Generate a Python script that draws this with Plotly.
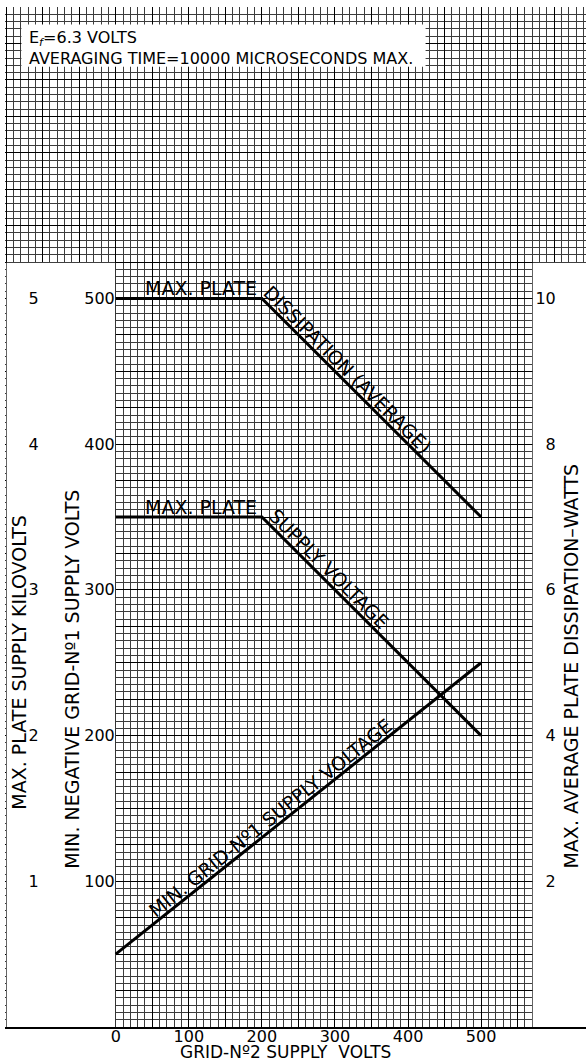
import numpy as np
import plotly.graph_objects as go

# ---------------- data ----------------
grid2_supply_v = [0, 200, 500]              # x: grid-No.2 supply volts
max_plate_dissipation_w = [10, 10, 7]       # right scale (watts)
max_plate_supply_kv = [3.5, 3.5, 2.0]       # left outer scale (kilovolts)
grid1_x_v = [0, 500]
min_grid1_supply_v = [50, 250]              # middle scale (volts)

x_tick_vals = [0, 100, 200, 300, 400, 500]
x_tick_text = ["0", "100", "200", "300", "400", "500"]
v_tick_vals = [100, 200, 300, 400, 500]
v_tick_text = ["100", "200", "300", "400", "500"]
kv_tick_vals = [1, 2, 3, 4, 5]
kv_tick_text = ["1", "2", "3", "4", "5"]
w_tick_vals = [2, 4, 6, 8, 10]
w_tick_text = ["2", "4", "6", "8", "10"]

note_lines = ["E<sub><i>f</i></sub>=6.3 VOLTS",
              "AVERAGING TIME=10000 MICROSECONDS MAX."]
x_title = "GRID-N\u00ba2 SUPPLY\u00a0 VOLTS"
v_title = "MIN. NEGATIVE GRID-N\u00ba1 SUPPLY VOLTS"
kv_title = "MAX. PLATE SUPPLY KILOVOLTS"
w_title = "MAX. AVERAGE PLATE DISSIPATION\u2013WATTS"

# ---------------- layout constants ----------------
FONT = "DejaVu Sans"
X_RANGE = [-151.5, 643.5]
V_RANGE = [0, 700]
KV_RANGE = [0, 7]
W_RANGE = [0, 14]
GRID_X_MAX = 570
GRID_TOP_SPLIT = 525

major_x = list(np.arange(-150, 644, 50))
major_x_text = [x_tick_text[x_tick_vals.index(v)] if v in x_tick_vals else "" for v in major_x]
major_y = list(np.arange(0, 701, 25))
major_y_text = [v_tick_text[v_tick_vals.index(v)] if v in v_tick_vals else "" for v in major_y]

line_style = dict(color="black", width=3)

fig = go.Figure()
fig.add_trace(go.Scatter(x=grid2_supply_v, y=max_plate_dissipation_w, yaxis="y3",
                         mode="lines", line=line_style, hoverinfo="skip", showlegend=False))
fig.add_trace(go.Scatter(x=grid2_supply_v, y=max_plate_supply_kv, yaxis="y2",
                         mode="lines", line=line_style, hoverinfo="skip", showlegend=False))
fig.add_trace(go.Scatter(x=grid1_x_v, y=min_grid1_supply_v, yaxis="y",
                         mode="lines", line=line_style, hoverinfo="skip", showlegend=False))

tickfont = dict(family=FONT, size=16, color="black")
minor_col = "#3c3c3c"
major_col = "#000000"

fig.update_layout(
    width=586, height=1062,
    margin=dict(l=5, r=0, t=7, b=35),
    paper_bgcolor="white", plot_bgcolor="white",
    font=dict(family=FONT, color="black"),
    xaxis=dict(range=X_RANGE, tickmode="array", tickvals=major_x, ticktext=major_x_text,
               showgrid=True, gridcolor=major_col, gridwidth=1.3,
               minor=dict(tickmode="linear", tick0=0, dtick=10, showgrid=True,
                          gridcolor=minor_col, gridwidth=1),
               zeroline=False, showline=True, linecolor="black", linewidth=1.6,
               ticks="", tickfont=tickfont, ticklabelstandoff=-6, fixedrange=True),
    yaxis=dict(range=V_RANGE, tickmode="array", tickvals=major_y, ticktext=major_y_text,
               anchor="free", position=0.189, side="left",
               showgrid=True, gridcolor=major_col, gridwidth=1.3,
               minor=dict(tickmode="linear", tick0=0, dtick=5, showgrid=True,
                          gridcolor=minor_col, gridwidth=1),
               zeroline=False, showline=False, ticks="", tickfont=tickfont, fixedrange=True),
    yaxis2=dict(range=KV_RANGE, overlaying="y", tickmode="array", tickvals=kv_tick_vals,
                ticktext=kv_tick_text, anchor="free", position=0.058, side="left",
                showgrid=False, zeroline=False, showline=False, ticks="",
                tickfont=tickfont, fixedrange=True),
    yaxis3=dict(range=W_RANGE, overlaying="y", tickmode="array", tickvals=w_tick_vals,
                ticktext=w_tick_text, anchor="free", position=0.948, side="left",
                showgrid=False, zeroline=False, showline=False, ticks="",
                tickfont=tickfont, fixedrange=True),
)

# white areas of the printed sheet (no graph paper there)
white = dict(type="rect", xref="x", yref="y", fillcolor="white", line=dict(width=0), layer="between")
fig.add_shape(**white, x0=-149.3, x1=-0.7, y0=0, y1=GRID_TOP_SPLIT - 0.6)
fig.add_shape(**white, x0=GRID_X_MAX + 0.7, x1=X_RANGE[1] + 5, y0=0, y1=GRID_TOP_SPLIT - 0.6)
fig.add_shape(**white, x0=-129, x1=424, y0=659, y1=688)

ann = []
# note box text (two lines in one block)
ann.append(dict(text="<br>".join(note_lines), x=-120, y=672, xref="x", yref="y",
                xanchor="left", yanchor="middle", align="left", borderpad=0,
                showarrow=False, font=dict(size=16)))

lab_font = dict(size=19)
c = dict(xanchor="center", yanchor="middle", showarrow=False)
# curve labels
ann.append(dict(text="MAX. PLATE", x=117, y=max_plate_dissipation_w[0], xref="x", yref="y3",
                yshift=10, font=lab_font, **c))
xd = 308
ann.append(dict(text="DISSIPATION (AVERAGE)", x=xd,
                y=float(np.interp(xd, grid2_supply_v, max_plate_dissipation_w)),
                xref="x", yref="y3", xshift=7.5, yshift=7.5, textangle=45,
                font=lab_font, **c))
ann.append(dict(text="MAX. PLATE", x=117, y=max_plate_supply_kv[0], xref="x", yref="y2",
                yshift=10, font=lab_font, **c))
xs = 282
ann.append(dict(text="SUPPLY VOLTAGE", x=xs,
                y=float(np.interp(xs, grid2_supply_v, max_plate_supply_kv)),
                xref="x", yref="y2", xshift=7.5, yshift=7.5, textangle=45,
                font=lab_font, **c))
xg = 220
ann.append(dict(text="MIN. GRID-N\u00ba1 SUPPLY VOLTAGE", x=xg,
                y=float(np.interp(xg, grid1_x_v, min_grid1_supply_v)),
                xref="x", yref="y", xshift=-6.6, yshift=8.3, textangle=-38.6,
                font=lab_font, **c))

# axis titles
ttl_font = dict(size=19)
ann.append(dict(text=kv_title, x=0.0241, y=250, xref="paper", yref="y", textangle=-90,
                font=ttl_font, **c))
ann.append(dict(text=v_title, x=0.1153, y=239, xref="paper", yref="y", textangle=-90,
                font=ttl_font, **c))
ann.append(dict(text=w_title, x=0.974, y=248, xref="paper", yref="y", textangle=-90,
                font=ttl_font, **c))
ann.append(dict(text=x_title, x=232, y=-0.0245, xref="x", yref="paper", borderpad=0,
                font=dict(size=17), **c))

fig.update_layout(annotations=ann)

fig.write_html("out.html", config={"displayModeBar": False},
               post_script="document.body.style.margin='0px';document.body.style.padding='0px';")
